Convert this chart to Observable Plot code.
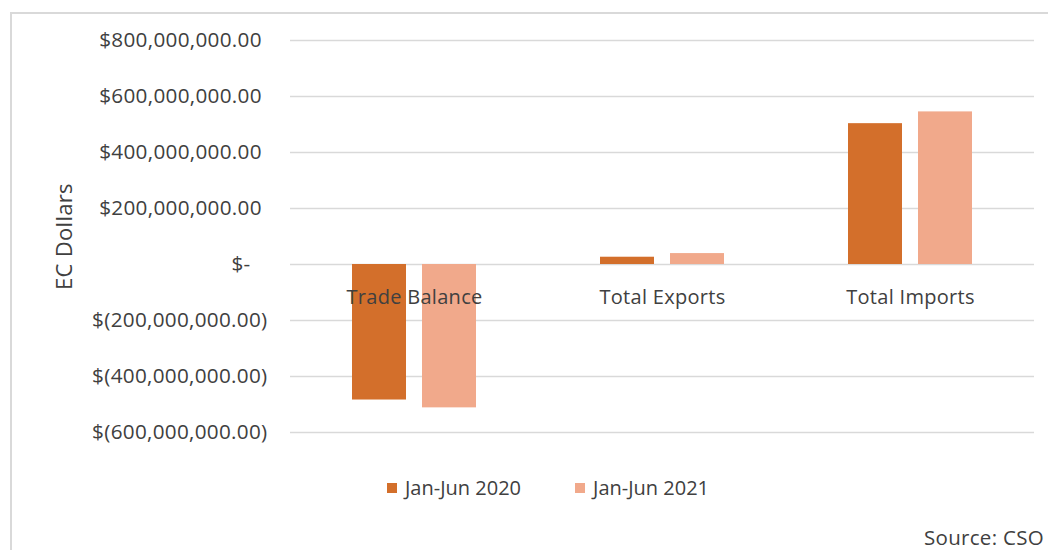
<!DOCTYPE html>
<html>
<head>
<meta charset="utf-8">
<script src="https://cdn.jsdelivr.net/npm/d3@7"></script>
<script src="https://cdn.jsdelivr.net/npm/@observablehq/plot@0.6"></script>
<style>
  html, body { margin: 0; padding: 0; background: #fff; overflow: hidden; }
  #wrap { position: relative; width: 1048px; height: 550px; overflow: hidden; font-family: "Open Sans", sans-serif; color: #404040; }
  #frame { position: absolute; left: 10px; top: 12px; width: 1200px; height: 700px; border-left: 2px solid #d9d9d9; border-top: 2px solid #d9d9d9; box-sizing: border-box; }
  #chart { position: absolute; left: 0; top: 0; }
  #legend { position: absolute; left: 387px; top: 474px; display: flex; align-items: center; font-size: 20px; letter-spacing: 0px; }
  #legend .item { display: flex; align-items: center; }
  #legend .sw { width: 10px; height: 10px; margin-right: 8px; }
  #source { position: absolute; left: 924px; top: 527px; font-size: 20.5px; line-height: 21px; letter-spacing: 0.3px; white-space: nowrap; }
</style>
</head>
<body>
<div id="wrap">
  <div id="frame"></div>
  <div id="chart"></div>
  <div id="legend"></div>
  <div id="source">Source: CSO</div>
</div>
<script>
const categories = ["Trade Balance", "Total Exports", "Total Imports"];
const periods = ["Jan-Jun 2020", "Jan-Jun 2021"];
const values2020 = [-484e6, 26e6, 503e6];
const values2021 = [-512e6, 39e6, 545e6];
const yTicks = [-600e6, -400e6, -200e6, 0, 200e6, 400e6, 600e6, 800e6];
const colors = ["#D36F2B", "#F1A98B"];

const data = [];
categories.forEach((c, i) => {
  data.push({cat: c, period: periods[0], value: values2020[i]});
  data.push({cat: c, period: periods[1], value: values2021[i]});
});

const fmt = d3.format(",.2f");
const tickFmt = v => v === 0 ? "$-\u00a0\u00a0\u00a0"
  : v < 0 ? "$(" + fmt(-v) + ")"
  : "$" + fmt(v) + "\u00a0";

const chart = Plot.plot({
  width: 1048,
  height: 470,
  marginTop: 40,
  marginBottom: 38,
  marginLeft: 289,
  marginRight: 14,
  style: {fontFamily: "Open Sans, sans-serif", fontSize: "20px", color: "#404040", background: "transparent", letterSpacing: "0.3px", overflow: "visible"},
  fx: {domain: categories, padding: 0, axis: null, label: null},
  x: {domain: periods, paddingInner: 0.225, paddingOuter: 0.86, axis: null},
  y: {domain: [-600e6, 800e6], label: null},
  color: {domain: periods, range: colors},
  marks: [
    Plot.gridY(yTicks, {stroke: "#d9d9d9", strokeOpacity: 1, strokeWidth: 1.5}),
    Plot.axisY(yTicks, {tickSize: 0, tickPadding: 23, tickFormat: tickFmt, label: null, fill: "#404040", fontSize: 20.7}),
    Plot.barY(data, {fx: "cat", x: "period", y: "value", fill: "period"}),
    Plot.text(categories.map(c => ({cat: c, v: 0})), {fx: "cat", y: "v", text: "cat", dy: 33, fill: "#404040"}),
    Plot.text(["EC Dollars"], {fx: () => categories[0], frameAnchor: "left", textAnchor: "middle", text: d => d, rotate: -90, dx: -226, fontSize: 22, fill: "#404040"})
  ]
});
document.getElementById("chart").appendChild(chart);

const legend = document.getElementById("legend");
periods.forEach((p, i) => {
  const item = document.createElement("div");
  item.className = "item";
  if (i > 0) item.style.marginLeft = "54px";
  const sw = document.createElement("div");
  sw.className = "sw";
  sw.style.background = colors[i];
  const t = document.createElement("span");
  t.textContent = p;
  item.appendChild(sw);
  item.appendChild(t);
  legend.appendChild(item);
});
</script>
</body>
</html>
